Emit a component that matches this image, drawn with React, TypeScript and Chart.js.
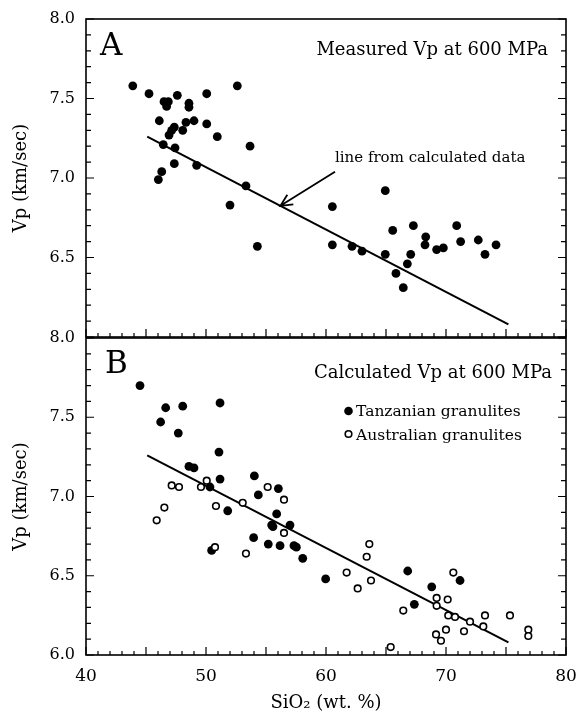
import React, { useEffect, useRef } from 'react';
import { Chart, registerables } from 'chart.js';

Chart.register(...registerables);

const FONT = '"DejaVu Serif", "Liberation Serif", serif';

// ---- Panel A: measured Vp at 600 MPa ----
const measuredSiO2 = [43.9, 45.25, 46.5, 46.86, 46.72, 47.61, 48.58, 48.58, 50.06, 52.61,
  46.11, 49.0, 48.33, 50.06, 47.36, 47.14, 46.92, 48.06, 50.94, 46.44,
  47.42, 53.67, 47.36, 49.22, 46.31, 46.03, 53.33, 52.0, 54.28, 60.53,
  60.53, 62.17, 63.0, 64.94, 64.94, 65.56, 65.83, 66.44, 66.78, 67.06,
  67.28, 68.31, 68.25, 69.22, 69.78, 70.89, 71.22, 72.69, 73.25, 74.17];
const measuredVp = [7.58, 7.53, 7.48, 7.48, 7.45, 7.52, 7.47, 7.445, 7.53, 7.58,
  7.36, 7.36, 7.35, 7.34, 7.32, 7.30, 7.27, 7.30, 7.26, 7.21,
  7.19, 7.20, 7.09, 7.08, 7.04, 6.99, 6.95, 6.83, 6.57, 6.82,
  6.58, 6.57, 6.54, 6.92, 6.52, 6.67, 6.40, 6.31, 6.46, 6.52,
  6.70, 6.63, 6.58, 6.55, 6.56, 6.70, 6.60, 6.61, 6.52, 6.58];

// ---- Panel B: calculated Vp at 600 MPa ----
const tanzanianSiO2 = [44.5, 46.64, 48.06, 51.17, 46.22, 47.69, 51.08, 48.58, 49.0, 51.17,
  50.33, 54.03, 54.36, 56.03, 51.81, 55.89, 55.47, 55.58, 57.0, 53.97,
  55.19, 56.17, 57.33, 57.53, 50.47, 58.06, 59.97, 66.81, 67.36, 68.81, 71.17];
const tanzanianVp = [7.70, 7.56, 7.57, 7.59, 7.47, 7.40, 7.28, 7.19, 7.18, 7.11,
  7.06, 7.13, 7.01, 7.05, 6.91, 6.89, 6.82, 6.81, 6.82, 6.74,
  6.70, 6.69, 6.69, 6.68, 6.66, 6.61, 6.48, 6.53, 6.32, 6.43, 6.47];

const australianSiO2 = [47.14, 47.75, 49.58, 50.06, 46.53, 45.89, 50.83, 50.75, 53.06, 53.33,
  55.14, 56.5, 56.5, 63.61, 63.39, 61.72, 63.75, 62.64, 70.61, 69.22,
  70.14, 69.22, 66.44, 70.19, 70.75, 72.0, 73.25, 73.11, 75.33, 76.86,
  76.86, 70.0, 71.5, 69.17, 69.58, 65.39];
const australianVp = [7.07, 7.06, 7.06, 7.10, 6.93, 6.85, 6.94, 6.68, 6.96, 6.64,
  7.06, 6.98, 6.77, 6.70, 6.62, 6.52, 6.47, 6.42, 6.52, 6.36,
  6.35, 6.31, 6.28, 6.25, 6.24, 6.21, 6.25, 6.18, 6.25, 6.16,
  6.12, 6.16, 6.15, 6.13, 6.09, 6.05];

// regression line from calculated data (both panels)
const fitLineSiO2 = [45.1, 75.2];
const fitLineVp = [7.26, 6.08];

// axes
const xMin = 40, xMax = 80;
const yMin = 6.0, yMax = 8.0;
const xTickValues = [40, 50, 60, 70, 80];
const yTickValues = [6.0, 6.5, 7.0, 7.5, 8.0];

// annotation arrow (data coords): tail near the label, tip on the line
const arrowTail = { x: 60.75, y: 7.04 };
const arrowTipSiO2 = 56.2;

const pts = (xs: number[], ys: number[]) => xs.map((x, i) => ({ x, y: ys[i] }));

function fitY(x: number) {
  const s = (fitLineVp[1] - fitLineVp[0]) / (fitLineSiO2[1] - fitLineSiO2[0]);
  return fitLineVp[0] + (x - fitLineSiO2[0]) * s;
}

function framePlugin(panel: 'A' | 'B') {
  return {
    id: 'frame' + panel,
    afterDraw(chart: any) {
      const { ctx, chartArea: a, scales } = chart;
      const x = scales.x, y = scales.y;
      ctx.save();
      ctx.strokeStyle = '#000';
      ctx.lineWidth = 1.6;
      ctx.strokeRect(a.left, a.top, a.right - a.left, a.bottom - a.top);
      ctx.lineWidth = 1.2;
      ctx.beginPath();
      for (let v = xMin; v <= xMax; v++) {
        const px = x.getPixelForValue(v);
        const len = v % 5 === 0 ? 8 : 4;
        ctx.moveTo(px, a.bottom);
        ctx.lineTo(px, a.bottom - len);
      }
      for (let i = 0; i <= 20; i++) {
        const v = yMin + i * 0.1;
        const py = y.getPixelForValue(v);
        const len = i % 5 === 0 ? 8 : 5;
        ctx.moveTo(a.left, py);
        ctx.lineTo(a.left + len, py);
        ctx.moveTo(a.right, py);
        ctx.lineTo(a.right - len, py);
      }
      ctx.stroke();

      ctx.fillStyle = '#000';
      ctx.textBaseline = 'alphabetic';
      if (panel === 'A') {
        ctx.font = `31px ${FONT}`;
        ctx.textAlign = 'left';
        ctx.fillText('A', a.left + 14, a.top + 36);
        ctx.font = `18px ${FONT}`;
        ctx.textAlign = 'right';
        ctx.fillText('Measured Vp at 600 MPa', a.right - 18, a.top + 35.5);
        ctx.font = `15px ${FONT}`;
        ctx.textAlign = 'left';
        ctx.fillText('line from calculated data', a.left + 249, a.top + 143);
        // arrow
        const tx = x.getPixelForValue(arrowTail.x), ty = y.getPixelForValue(arrowTail.y);
        const hx = x.getPixelForValue(arrowTipSiO2), hy = y.getPixelForValue(fitY(arrowTipSiO2));
        const th = Math.atan2(hy - ty, hx - tx);
        ctx.lineWidth = 1.8;
        ctx.beginPath();
        ctx.moveTo(tx, ty);
        ctx.lineTo(hx, hy);
        ctx.moveTo(hx - 13 * Math.cos(th - 0.45), hy - 13 * Math.sin(th - 0.45));
        ctx.lineTo(hx, hy);
        ctx.lineTo(hx - 13 * Math.cos(th + 0.45), hy - 13 * Math.sin(th + 0.45));
        ctx.stroke();
      } else {
        ctx.font = `31px ${FONT}`;
        ctx.textAlign = 'left';
        ctx.fillText('B', a.left + 19, a.top + 35);
        ctx.font = `18px ${FONT}`;
        ctx.textAlign = 'right';
        ctx.fillText('Calculated Vp at 600 MPa', a.right - 14, a.top + 40);
        // legend
        const mx = a.left + 262.5;
        ctx.beginPath();
        ctx.arc(mx, a.top + 73, 4.3, 0, Math.PI * 2);
        ctx.fill();
        ctx.beginPath();
        ctx.lineWidth = 1.6;
        ctx.arc(mx, a.top + 96, 3.3, 0, Math.PI * 2);
        ctx.stroke();
        ctx.font = `15.5px ${FONT}`;
        ctx.textAlign = 'left';
        ctx.fillText('Tanzanian granulites', a.left + 270, a.top + 78);
        ctx.fillText('Australian granulites', a.left + 270, a.top + 102);
      }
      ctx.restore();
    },
  };
}

function makeConfig(panel: 'A' | 'B'): any {
  const datasets: any[] = [];
  datasets.push({
    type: 'line',
    data: pts(fitLineSiO2, fitLineVp),
    borderColor: '#000',
    borderWidth: 2,
    pointRadius: 0,
    fill: false,
    showLine: true,
    order: 3,
  });
  if (panel === 'A') {
    datasets.push({
      data: pts(measuredSiO2, measuredVp),
      backgroundColor: '#000',
      borderColor: '#000',
      borderWidth: 0,
      pointRadius: 4.4,
      order: 2,
    });
  } else {
    datasets.push({
      data: pts(tanzanianSiO2, tanzanianVp),
      backgroundColor: '#000',
      borderColor: '#000',
      borderWidth: 0,
      pointRadius: 4.4,
      order: 2,
    });
    datasets.push({
      data: pts(australianSiO2, australianVp),
      backgroundColor: '#fff',
      borderColor: '#000',
      borderWidth: 1.6,
      pointRadius: 3.3,
      order: 1,
    });
  }

  return {
    type: 'scatter',
    data: { datasets },
    plugins: [framePlugin(panel)],
    options: {
      animation: false,
      responsive: false,
      events: [],
      layout: {
        padding: panel === 'A'
          ? { top: 19, right: 12, bottom: 9, left: 0 }
          : { top: 8, right: 12, bottom: 0, left: 0 },
      },
      plugins: { legend: { display: false }, tooltip: { enabled: false } },
      scales: {
        x: {
          type: 'linear',
          min: xMin,
          max: xMax,
          display: panel === 'B',
          afterFit: (s: any) => {
            s.height = panel === 'B' ? 63 : 0;
            s.paddingLeft = 0;
            s.paddingRight = 0;
          },
          afterBuildTicks: (s: any) => { s.ticks = xTickValues.map((v) => ({ value: v })); },
          grid: { display: false, drawTicks: false },
          border: { display: false },
          ticks: {
            color: '#000',
            font: { family: FONT, size: 17 },
            padding: 11,
            maxRotation: 0,
            autoSkip: false,
            callback: (v: any) => String(v),
          },
          title: {
            display: true,
            text: 'SiO₂ (wt. %)',
            color: '#000',
            font: { family: FONT, size: 18 },
            padding: { top: 0, bottom: 4 },
          },
        },
        y: {
          type: 'linear',
          min: yMin,
          max: yMax,
          afterFit: (s: any) => {
            s.width = 86;
            s.paddingTop = 0;
            s.paddingBottom = 0;
          },
          afterBuildTicks: (s: any) => { s.ticks = yTickValues.map((v) => ({ value: v })); },
          grid: { display: false, drawTicks: false },
          border: { display: false },
          ticks: {
            color: '#000',
            font: { family: FONT, size: 16 },
            padding: 11,
            autoSkip: false,
            callback: (v: any) => (panel === 'A' && Number(v) === yMin ? '' : Number(v).toFixed(1)),
          },
          title: {
            display: true,
            text: 'Vp (km/sec)',
            color: '#000',
            font: { family: FONT, size: 18 },
            padding: { top: 11, bottom: 0 },
          },
        },
      },
    },
  };
}

export default function App() {
  const refA = useRef<HTMLCanvasElement>(null);
  const refB = useRef<HTMLCanvasElement>(null);

  useEffect(() => {
    const a = new Chart(refA.current as HTMLCanvasElement, makeConfig('A'));
    const b = new Chart(refB.current as HTMLCanvasElement, makeConfig('B'));
    return () => {
      a.destroy();
      b.destroy();
    };
  }, []);

  return (
    <div style={{ position: 'absolute', left: 0, top: 0, width: 578, height: 718, background: '#fff' }}>
      <canvas
        ref={refA}
        width={578}
        height={346}
        style={{ position: 'absolute', left: 0, top: 0, width: 578, height: 346 }}
      />
      <canvas
        ref={refB}
        width={578}
        height={388}
        style={{ position: 'absolute', left: 0, top: 330, width: 578, height: 388 }}
      />
    </div>
  );
}
